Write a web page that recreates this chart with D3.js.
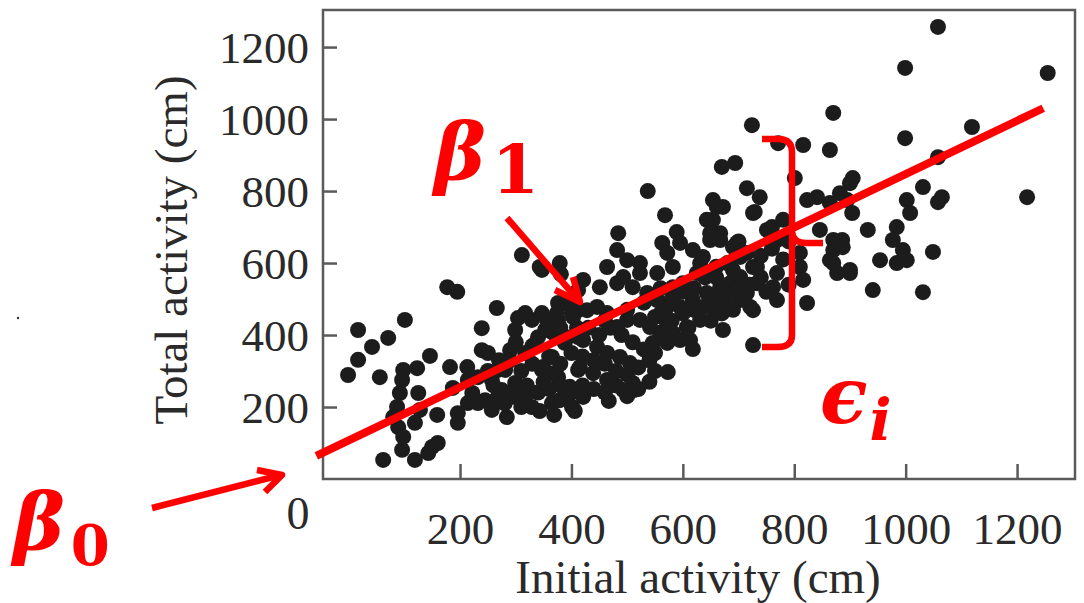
<!DOCTYPE html>
<html>
<head>
<meta charset="utf-8">
<script src="https://cdn.jsdelivr.net/npm/d3@7"></script>
<style>
  body { margin: 0; background: #fff; }
  svg { display: block; }
</style>
</head>
<body>
<div id="js-chart"></div>
<script>
//  Scatter values: [initial activity, total activity] in cm
var activityPairs = [
  [177,533],[195,520],[266,475],[101,442],[17,414],[71,392],[42,367],[17,331],[-1,289],[56,283],
  [146,342],[239,419],[304,447],[299,414],[98,303],[123,308],[182,311],[213,311],[239,358],[250,350],
  [290,358],[96,275],[92,239],[87,200],[80,172],[89,144],[98,117],[96,81],[125,239],[128,192],
  [119,156],[159,178],[196,183],[196,156],[62,53],[119,53],[143,72],[160,100],[150,89],[284,172],
  [187,253],[222,239],[245,219],[257,192],
  [281,303],[299,267],[317,228],[329,200],[347,303],[365,339],[376,283],[388,228],[401,200],[412,303],
  [340,394],[376,442],[401,461],[329,442],[353,414],[388,378],[412,394],[317,350],[293,228],[275,247],
  [365,211],[388,489],[412,525],[347,581],
  [214,275],[232,283],[257,275],[268,303],[268,228],[232,211],[214,211],[317,461],[347,461],[376,489],[412,469],
  [568,733],[484,683],[589,686],[661,756],[654,720],[667,683],[649,664],[726,739],[751,692],[379,600],
  [343,589],[563,656],[572,628],[582,589],[618,636],[631,600],[697,656],[703,617],[726,589],[733,544],
  [715,517],[726,469],[482,636],[464,589],[500,608],[523,600],[421,553],[451,533],[397,497],
  [482,544],[510,533],[536,517],[554,497],[572,478],[595,478],[618,497],[643,517],[667,533],[685,544],
  [703,561],[654,478],[679,478],[703,497],[631,442],[607,422],[582,406],[559,406],[541,422],[523,442],
  [500,442],[482,422],[464,461],[446,478],[428,469],[403,450],[374,461],[356,442],[367,406],[392,394],
  [421,386],[446,367],[464,350],[487,339],[505,322],[510,267],[493,247],[464,275],[439,294],[415,311],
  [397,256],[367,294],[349,311],[379,219],[421,228],[600,544],[625,572],[582,533],[554,572],[523,572],
  [493,561],[595,386],[613,386],[572,378],[546,378],[672,414],[726,372],[573,297],[721,478],
  [870,1017],[724,983],[999,947],[816,928],[771,933],[864,914],[670,867],[694,878],[801,836],[905,836],
  [715,808],[738,783],[729,742],[654,775],[672,756],[841,783],[823,775],[864,767],[895,775],[904,739],
  [932,692],[1002,775],[1008,739],[984,700],[977,664],[995,636],[1002,608],[984,600],[954,608],[769,664],
  [643,720],[649,683],[667,664],[690,644],[715,628],[733,589],[636,617],[595,656],[810,628],[810,589],
  [816,553],[769,572],[762,533],[769,497],[846,692],[870,664],[887,644],[864,608],[877,572],[900,581],
  [941,525],[823,489],[900,822],[882,794],
  [1058,1256],[999,1142],[1255,1128],[1119,978],[1058,894],[1031,811],[1065,783],[1058,769],[1218,783],[1049,631],
  [886,664],[870,636],[870,600],[900,572],[1031,519],
  [537,800],[381,569],[311,622],
  [618,361],[512,247],[467,217],[406,189],[369,178],[343,189],
  //  the solid middle of the cloud
  [360,250],[380,260],[400,240],[420,260],[440,250],[460,240],[480,260],[500,230],[520,250],[540,270],
  [360,340],[380,320],[400,350],[420,340],[440,330],[460,320],[480,300],[500,290],[520,310],[540,330],
  [550,300],[430,420],[450,400],[470,420],[490,400],[510,380],[530,360],[550,350],[410,420],[380,420],
  [460,440],[500,470],[530,490],[550,450],[570,440],
  [560,460],[580,440],[600,460],[620,470],[640,480],[660,500],[680,510],[700,530],[620,530],[600,520],
  [580,500],[560,530],[640,560],[660,560],[690,580],[610,420],[650,440],[670,460],[690,470],[710,500],
  [720,540],[740,560],
  [250,300],[270,330],[290,330],[310,300],[330,320],[300,250],[320,260],[340,240],[260,260],[280,210],
  [310,200],[350,270],[330,370],[300,380],
  [740,620],[760,640],[780,610],[790,660],[760,700],[780,720],[700,660],[680,600],[660,590],[750,520],[790,540]
];

//  Tick labels
var xTicks = [200, 400, 600, 800, 1000, 1200];
var yTicks = [200, 400, 600, 800, 1000, 1200];

//  Fitted line end points (data units)
var fitX = [-58, 1247];
var fitY = [64, 1030];

// ---------------------------------------------------------------------------------- //

var width = 1084;
var height = 603;
var red = "#ff0000";
var axisGray = "#5a5a5a";

var svg = d3.select("#js-chart")
  .append("svg")
  .attr("width", width)
  .attr("height", height);

//  Scales, frame is 323..1075 by 10..479
var x = d3.scaleLinear().domain([-46, 1304]).range([323, 1075]);
var y = d3.scaleLinear().domain([0, 1303]).range([479, 10]);

//  Frame
svg.append("rect")
  .attr("x", x.range()[0])
  .attr("y", y.range()[1])
  .attr("width", x.range()[1] - x.range()[0])
  .attr("height", y.range()[0] - y.range()[1])
  .style("fill", "none")
  .style("stroke", axisGray)
  .style("stroke-width", 2.5);

//  Axes with inward ticks
var xAxis = d3.axisBottom(x).tickValues(xTicks).tickSize(-15).tickPadding(33).tickFormat(d3.format("d"));
var yAxis = d3.axisLeft(y).tickValues(yTicks).tickSize(-14).tickPadding(14).tickFormat(d3.format("d"));

var gx = svg.append("g")
  .attr("transform", "translate(0," + y.range()[0] + ")")
  .call(xAxis);
var gy = svg.append("g")
  .attr("transform", "translate(" + x.range()[0] + ",0)")
  .call(yAxis);

[gx, gy].forEach(function (g) {
  g.select(".domain").remove();
  g.selectAll(".tick line").style("stroke", axisGray).style("stroke-width", 2.5);
  g.selectAll(".tick text")
    .style("font-family", "'Liberation Serif', 'DejaVu Serif', serif")
    .style("font-size", "45px")
    .style("fill", "#2a2a2a");
});
gy.selectAll(".tick text").attr("dy", "0.35em");

//  The lone "0" at the corner
svg.append("text")
  .attr("x", 298)
  .attr("y", 529)
  .attr("text-anchor", "middle")
  .style("font-family", "'Liberation Serif', serif")
  .style("font-size", "46px")
  .style("fill", "#2a2a2a")
  .text("0");

//  Axis titles
svg.append("text")
  .attr("x", 698)
  .attr("y", 593)
  .attr("text-anchor", "middle")
  .style("font-family", "'Liberation Serif', serif")
  .style("font-size", "47px")
  .style("fill", "#2a2a2a")
  .text("Initial activity (cm)");

svg.append("text")
  .attr("transform", "translate(187,250) rotate(-90)")
  .attr("text-anchor", "middle")
  .style("font-family", "'Liberation Serif', serif")
  .style("font-size", "47px")
  .style("fill", "#2a2a2a")
  .text("Total activity (cm)");

//  Points
svg.append("g")
  .selectAll("circle")
  .data(activityPairs)
  .enter()
  .append("circle")
  .attr("cx", function (d) { return x(d[0]); })
  .attr("cy", function (d) { return y(d[1]); })
  .attr("r", 8)
  .style("fill", "#1c1c1c");

// ---------------------------------------------------------------------------------- //
//  Red annotations

//  Regression line
svg.append("line")
  .attr("x1", x(fitX[0])).attr("y1", y(fitY[0]))
  .attr("x2", x(fitX[1])).attr("y2", y(fitY[1]))
  .style("stroke", red)
  .style("stroke-width", 8);

var ann = svg.append("g")
  .style("fill", "none")
  .style("stroke", red)
  .style("stroke-width", 6.5)
  .style("stroke-linecap", "butt")
  .style("stroke-linejoin", "round");

//  beta1 arrow
ann.append("path").attr("d", "M507,218 L579,301");
ann.append("path").attr("d", "M555,290 L580,302 L573,277");

//  beta0 arrow
ann.append("path").attr("d", "M152,508 L281,475");
ann.append("path").attr("d", "M257,470 L282,475 L265,492");

//  Residual brace
ann.append("path").attr("d", "M762,139 L780,139 Q792,140 792,152 L792,335 Q792,347 778,347 L762,347");
ann.append("path").attr("d", "M792,232 Q793,243 806,243 L823,243");

//  Greek labels
function label(xp, yp, main, sub, mainSize, subSize, subDx, subDy, subStyle) {
  var t = svg.append("text")
    .attr("x", xp)
    .attr("y", yp)
    .style("font-family", "'DejaVu Serif', serif")
    .style("fill", red);
  t.append("tspan")
    .style("font-size", mainSize + "px")
    .style("font-weight", "bold")
    .style("font-style", "italic")
    .text(main);
  t.append("tspan")
    .attr("dx", subDx)
    .attr("dy", subDy)
    .style("font-size", subSize + "px")
    .style("font-weight", "bold")
    .style("font-style", subStyle)
    .text(sub);
}

label(434, 180, "\u03b2", "1", 78, 68, 6, 13, "normal");
label(13, 550, "\u03b2", "0", 78, 56, 6, 15, "normal");
label(820, 423, "\u03f5", "i", 78, 58, 2, 17, "italic");

//  Stray speck at the left edge
svg.append("circle").attr("cx", 18).attr("cy", 318).attr("r", 1.2).style("fill", "#333");
</script>
</body>
</html>
